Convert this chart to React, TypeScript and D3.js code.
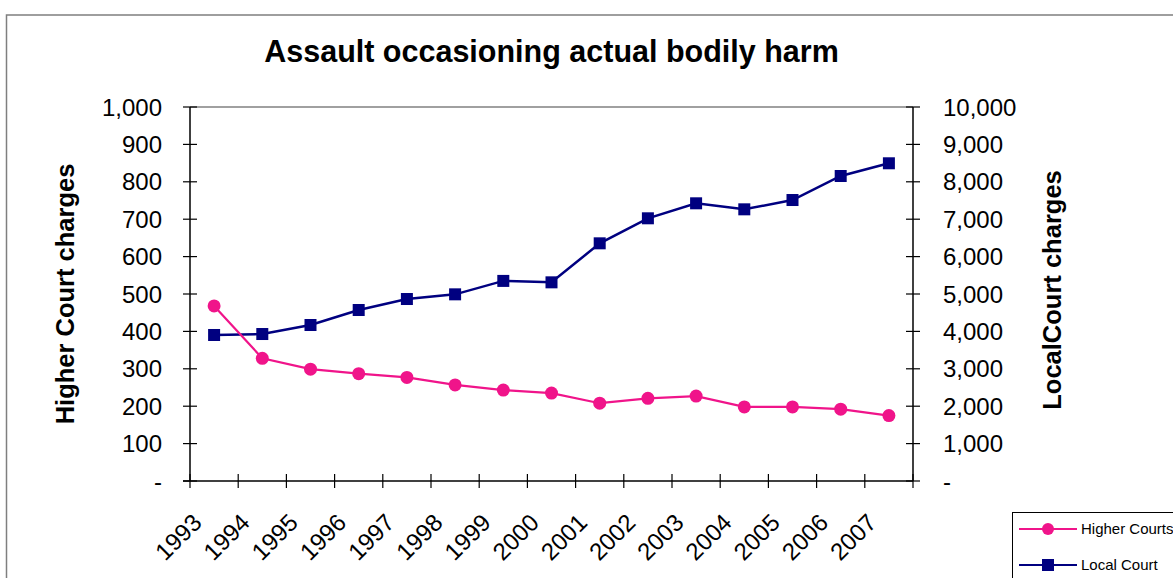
import React from "react";
import * as d3 from "d3";

const years = ["1993","1994","1995","1996","1997","1998","1999","2000","2001","2002","2003","2004","2005","2006","2007"];
const higherCourts = [468, 328, 299, 287, 277, 257, 243, 235, 208, 221, 227, 198, 198, 192, 175];
const localCourt = [3904, 3930, 4171, 4572, 4866, 4991, 5350, 5312, 6355, 7024, 7425, 7264, 7513, 8155, 8495];
const leftTicks = [0, 100, 200, 300, 400, 500, 600, 700, 800, 900, 1000];
const rightTicks = [0, 1000, 2000, 3000, 4000, 5000, 6000, 7000, 8000, 9000, 10000];

const W = 1173, H = 578;
const plot = { left: 190, right: 913, top: 107, bottom: 481 };
const PINK = "#F0148A";
const NAVY = "#000080";
const FONT = "'Liberation Sans', Arial, sans-serif";

export default function App() {
  const x = d3.scaleBand<string>().domain(years).range([plot.left, plot.right]).padding(0);
  const yL = d3.scaleLinear().domain([0, 1000]).range([plot.bottom, plot.top]);
  const yR = d3.scaleLinear().domain([0, 10000]).range([plot.bottom, plot.top]);
  const fmt = (v: number) => (v === 0 ? "-" : d3.format(",")(v));
  const cx = (y: string) => (x(y) as number) + x.bandwidth() / 2;

  const lineL = d3.line<number>().x((_, i) => cx(years[i])).y((d) => yL(d));
  const lineR = d3.line<number>().x((_, i) => cx(years[i])).y((d) => yR(d));

  const bounds = [...years.map((y) => x(y) as number), plot.right];

  return (
    <svg width={W} height={H} style={{ position: "absolute", left: 0, top: 0, background: "#fff" }} fontFamily={FONT}>
      <rect x={0} y={0} width={W} height={H} fill="#fff" />
      {/* outer chart border */}
      <rect x={6.5} y={15} width={W + 20} height={H + 20} fill="none" stroke="#7f7f7f" strokeWidth={1.5} />
      {/* title */}
      <text x={(plot.left + plot.right) / 2} y={62} textAnchor="middle" fontSize={30.5} fontWeight="bold" fill="#000">
        Assault occasioning actual bodily harm
      </text>
      {/* plot area top border */}
      <line x1={plot.left} x2={plot.right} y1={plot.top} y2={plot.top} stroke="#808080" strokeWidth={1.5} />
      {/* left axis */}
      <line x1={plot.left} x2={plot.left} y1={plot.top} y2={plot.bottom} stroke="#000" strokeWidth={1.5} />
      {leftTicks.map((t) => (
        <g key={"l" + t}>
          <line x1={plot.left - 7} x2={plot.left + 7} y1={yL(t)} y2={yL(t)} stroke="#000" strokeWidth={1.2} />
          <text x={162} y={yL(t)} dy="0.36em" textAnchor="end" fontSize={24} fill="#000">{fmt(t)}</text>
        </g>
      ))}
      {/* right axis */}
      <line x1={plot.right} x2={plot.right} y1={plot.top} y2={plot.bottom} stroke="#000" strokeWidth={1.5} />
      {rightTicks.map((t) => (
        <g key={"r" + t}>
          <line x1={plot.right - 7} x2={plot.right + 7} y1={yR(t)} y2={yR(t)} stroke="#000" strokeWidth={1.2} />
          <text x={943} y={yR(t)} dy="0.36em" textAnchor="start" fontSize={24} fill="#000">{fmt(t)}</text>
        </g>
      ))}
      {/* bottom axis */}
      <line x1={plot.left - 7} x2={plot.right} y1={plot.bottom} y2={plot.bottom} stroke="#000" strokeWidth={1.5} />
      {bounds.map((b, i) => (
        <line key={"xt" + i} x1={b} x2={b} y1={plot.bottom - 7} y2={plot.bottom + 7} stroke="#000" strokeWidth={1.2} />
      ))}
      {years.map((y) => (
        <text key={"xl" + y} transform={`translate(${cx(y) - 11},${plot.bottom + 43}) rotate(-45)`} textAnchor="end" fontSize={24} fill="#000">
          {y}
        </text>
      ))}
      {/* axis titles */}
      <text transform={`translate(74,${(plot.top + plot.bottom) / 2}) rotate(-90)`} textAnchor="middle" fontSize={25.5} fontWeight="bold" fill="#000">
        Higher Court charges
      </text>
      <text transform={`translate(1061,290) rotate(-90)`} textAnchor="middle" fontSize={25.5} fontWeight="bold" fill="#000">
        LocalCourt charges
      </text>
      {/* series */}
      <path d={lineR(localCourt) as string} fill="none" stroke={NAVY} strokeWidth={2.5} />
      {localCourt.map((v, i) => (
        <rect key={"lc" + i} x={cx(years[i]) - 6} y={yR(v) - 6} width={12} height={12} fill={NAVY} />
      ))}
      <path d={lineL(higherCourts) as string} fill="none" stroke={PINK} strokeWidth={2.2} />
      {higherCourts.map((v, i) => (
        <circle key={"hc" + i} cx={cx(years[i])} cy={yL(v)} r={6.5} fill={PINK} />
      ))}
      {/* legend */}
      <rect x={1012.5} y={512.5} width={200} height={100} fill="#fff" stroke="#000" strokeWidth={1} />
      <line x1={1019} x2={1077} y1={529} y2={529} stroke={PINK} strokeWidth={2.2} />
      <circle cx={1048} cy={529} r={6} fill={PINK} />
      <text x={1081} y={529} dy="0.36em" fontSize={15} fill="#000">Higher Courts</text>
      <line x1={1019} x2={1077} y1={565} y2={565} stroke={NAVY} strokeWidth={2.2} />
      <rect x={1042} y={559} width={12} height={12} fill={NAVY} />
      <text x={1081} y={565} dy="0.36em" fontSize={15} fill="#000">Local Court</text>
    </svg>
  );
}
